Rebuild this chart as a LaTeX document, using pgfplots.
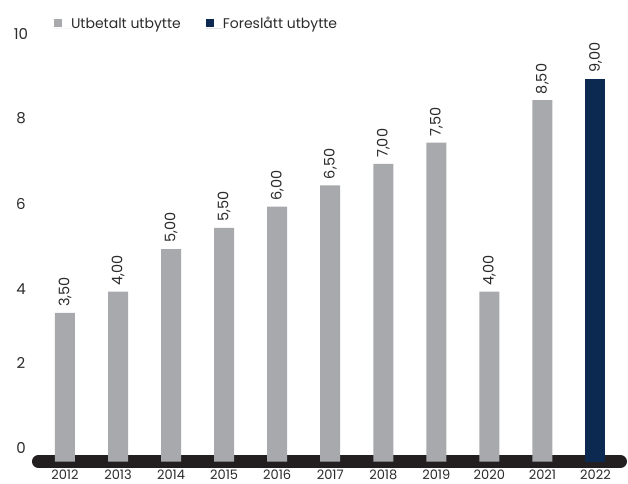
\documentclass[border=0pt]{standalone}
\usepackage{fontspec}
\setmainfont{Poppins}
\usepackage{pgfplots}
\pgfplotsset{compat=1.18}
\definecolor{barGray}{HTML}{A7A9AC}
\definecolor{barNavy}{HTML}{0B2951}
\definecolor{baseDark}{HTML}{231F20}
\definecolor{txt}{HTML}{2B2B2B}
\begin{document}
\begin{tikzpicture}
\begin{axis}[
  x=53.05pt, y=42.5pt,
  xmin=-1.225, xmax=10.613, ymin=-0.529, ymax=10.859,
  clip=false,
  axis line style={draw=none},
  tick style={draw=none},
  xtick={0,1,2,3,4,5,6,7,8,9,10},
  xticklabels={2012,2013,2014,2015,2016,2017,2018,2019,2020,2021,2022},
  ytick={0.18,2.18,3.94,5.94,7.96,9.94},
  yticklabels={0,2,4,6,8,10},
  yticklabel style={anchor=base, xshift=21pt, font=\fontsize{15}{15}\selectfont, text=txt},
  xticklabel style={anchor=base, inner sep=0pt, yshift=4pt, font=\fontsize{13}{13}\selectfont, text=txt},
  legend style={draw=none, fill=none, inner sep=0pt, outer sep=0pt,
    at={(0.086,0.9519)}, anchor=west,
    font=\fontsize{14}{14}\selectfont, text=txt,
    nodes={inner sep=0pt, anchor=base west},
    /tikz/every even column/.append style={column sep=25pt}},
  legend columns=2,
  legend cell align=left,
]
\addplot[baseDark, line width=13pt, line cap=round, forget plot] coordinates {(-0.4995,0) (10.471,0)};
\addplot[ybar, bar width=20pt, bar shift=0pt, fill=barGray, draw=none,
  point meta=explicit symbolic, nodes near coords,
  nodes near coords style={rotate=90, anchor=west, inner xsep=6pt, inner ysep=0pt, font=\fontsize{14.5}{14.5}\selectfont, text=txt},
  legend image code/.code={\fill[barGray] (0pt,1pt) rectangle (8pt,9pt); \path (0pt,0pt) -- (17pt,0pt);}]
  table[x=x, y=y, meta=label] {
x y label
0 3.5 3,50
1 4.0 4,00
2 5.0 5,00
3 5.5 5,50
4 6.0 6,00
5 6.5 6,50
6 7.0 7,00
7 7.5 7,50
8 4.0 4,00
9 8.5 8,50
};
\addlegendentry{Utbetalt utbytte}
\addplot[ybar, bar width=20pt, bar shift=0pt, fill=barNavy, draw=none,
  point meta=explicit symbolic, nodes near coords,
  nodes near coords style={rotate=90, anchor=west, inner xsep=6pt, inner ysep=0pt, font=\fontsize{14.5}{14.5}\selectfont, text=txt},
  legend image code/.code={\fill[barNavy] (0pt,1pt) rectangle (8pt,9pt); \path (0pt,0pt) -- (17pt,0pt);}]
  table[x=x, y=y, meta=label] {
x y label
10 9.0 9,00
};
\addlegendentry{Foreslått utbytte}
\end{axis}
\pgfresetboundingbox
\path (current axis.south west) rectangle (current axis.north east);
\end{tikzpicture}
\end{document}
